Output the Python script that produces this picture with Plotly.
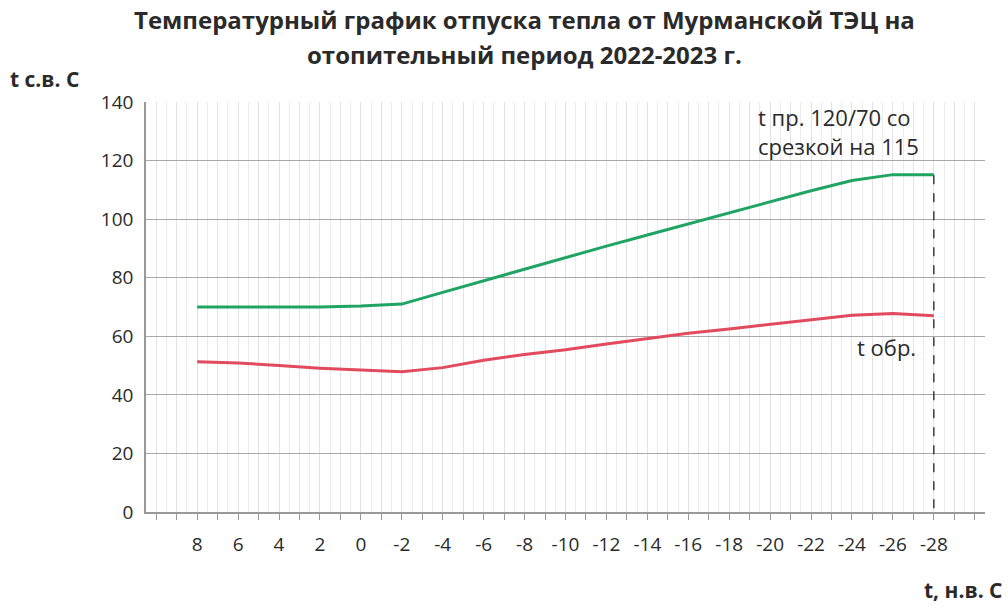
import plotly.graph_objects as go

# outdoor air temperature, °C
t_outdoor = [8, 6, 4, 2, 0, -2, -4, -6, -8, -10, -12, -14, -16, -18, -20, -22, -24, -26, -28]
# supply water temperature (120/70 with cut at 115)
t_supply = [70, 70, 70, 70, 70.3, 71, 75, 79, 83, 87, 90.8, 94.6, 98.4, 102.2, 106, 109.7, 113.2, 115.2, 115.2]
# return water temperature
t_return = [51.3, 50.9, 50.0, 49.1, 48.5, 47.9, 49.3, 51.8, 53.8, 55.4, 57.4, 59.2, 61.0, 62.5, 64.0, 65.6, 67.2, 67.8, 67.0]

x_ticks = list(range(10, -31, -1))
x_labels = [str(v) if (v % 2 == 0 and -28 <= v <= 8) else "" for v in x_ticks]
y_ticks = [0, 20, 40, 60, 80, 100, 120, 140]

title_lines = ["Температурный график отпуска тепла от Мурманской ТЭЦ на",
               "отопительный период 2022-2023 г."]
y_title = "t с.в. С"
x_title = "t, н.в. С"
supply_label = "t пр. 120/70 со<br>срезкой на 115"
return_label = "t обр."
cut_x = -28
cut_y = 115

FONT = "Open Sans"
TXT = "#2a2a2a"
fig = go.Figure()
fig.add_trace(go.Scatter(x=t_outdoor, y=t_supply, mode="lines",
                         line=dict(color="#1fa463", width=3), name="t пр."))
fig.add_trace(go.Scatter(x=t_outdoor, y=t_return, mode="lines",
                         line=dict(color="#e24a5e", width=3), name="t обр."))
fig.add_trace(go.Scatter(x=[cut_x, cut_x], y=[cut_y, 0], mode="lines",
                         line=dict(color="#222222", width=1.3, dash="dash"),
                         showlegend=False))

L, T, R, B = 146, 102, 985, 512
PW, PH = R - L, B - T
fig.update_layout(
    width=1008, height=607,
    margin=dict(l=L, r=1008 - R, t=T, b=607 - B),
    paper_bgcolor="white", plot_bgcolor="white",
    showlegend=False,
    font=dict(family=FONT, color=TXT),
)
fig.update_xaxes(
    range=[10.5, -30.5],
    tickmode="array", tickvals=x_ticks, ticktext=x_labels,
    tickfont=dict(size=19, color=TXT),
    ticks="outside", ticklen=6, tickcolor="#999999",
    showline=True, linecolor="#999999", linewidth=1.5,
    showgrid=True, gridcolor="#e3e3e3", gridwidth=1,
    minor=dict(tickmode="linear", dtick=1, tick0=0.5, showgrid=True,
               gridcolor="#ececec", gridwidth=1, ticks=""),
    zeroline=False,
    ticklabelstandoff=8,
)
fig.update_yaxes(
    range=[0, 140], tickmode="array", tickvals=y_ticks,
    tickfont=dict(size=19, color=TXT),
    showline=True, linecolor="#999999", linewidth=1.5,
    showgrid=True, gridcolor="#a8a8a8", gridwidth=1,
    zeroline=False, ticks="", ticklabelstandoff=7,
)

def px(xp):
    return (xp - L) / PW

def py(yp):
    return (B - yp) / PH

fig.add_annotation(text="<b>" + title_lines[0] + "</b>", xref="paper", yref="paper",
                   x=px(524), y=py(19), showarrow=False,
                   font=dict(size=24, family=FONT, color=TXT), xanchor="center", yanchor="middle")
fig.add_annotation(text="<b>" + title_lines[1] + "</b>", xref="paper", yref="paper",
                   x=px(524), y=py(55), showarrow=False,
                   font=dict(size=24, family=FONT, color=TXT), xanchor="center", yanchor="middle")
fig.add_annotation(text="<b>" + y_title + "</b>", xref="paper", yref="paper",
                   x=px(8), y=py(79), showarrow=False,
                   font=dict(size=21, family=FONT, color=TXT), xanchor="left", yanchor="middle")
fig.add_annotation(text="<b>" + x_title + "</b>", xref="paper", yref="paper",
                   x=px(1004), y=py(590), showarrow=False,
                   font=dict(size=21, family=FONT, color=TXT), xanchor="right", yanchor="middle")
fig.add_annotation(text=supply_label, x=-19.3, y=129.8, showarrow=False,
                   font=dict(size=22, family=FONT, color=TXT), align="left",
                   xanchor="left", yanchor="middle")
fig.add_annotation(text=return_label, x=-25.7, y=56.5, showarrow=False,
                   font=dict(size=22, family=FONT, color=TXT),
                   xanchor="center", yanchor="middle")

fig.write_html("out.html", config={"displayModeBar": False},
               post_script="document.body.style.margin='0';document.body.style.overflow='hidden';")
